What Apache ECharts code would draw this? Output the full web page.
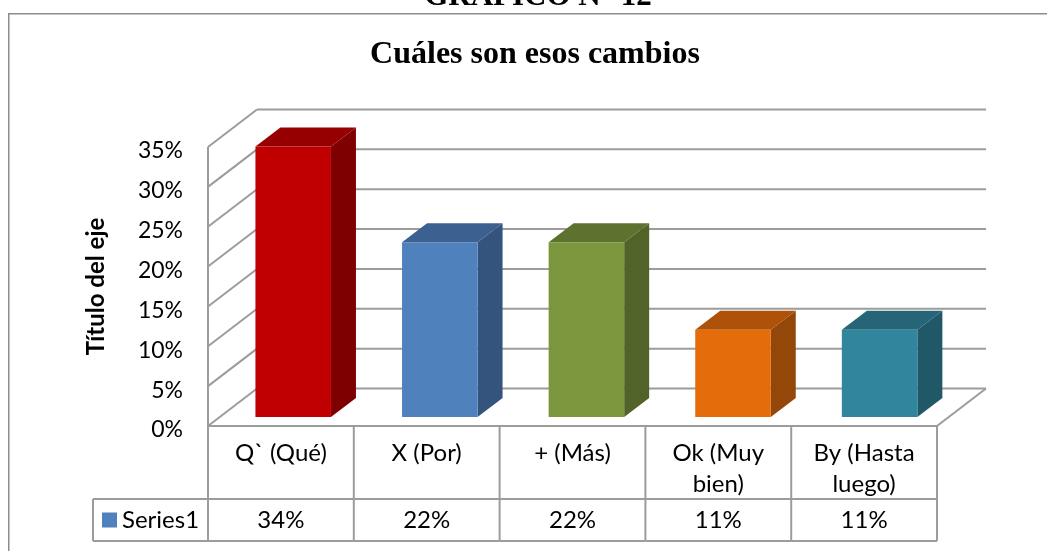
<!DOCTYPE html>
<html>
<head>
<meta charset="utf-8">
<style>html,body{margin:0;padding:0;background:#fff}#c{width:1047px;height:551px}</style>
<script src="https://cdn.jsdelivr.net/npm/echarts@6/dist/echarts.min.js"></script>
</head>
<body>
<div id="c"></div>
<script>
const categories = ['Q` (Qué)', 'X (Por)', '+ (Más)', 'Ok (Muy\nbien)', 'By (Hasta\nluego)'];
const values = [34, 22, 22, 11, 11];
const yTicks = [0, 5, 10, 15, 20, 25, 30, 35];
const seriesName = 'Series1';
const faceColors = ['#c00000', '#4f81bd', '#7c963e', '#e46c0a', '#31859c'];
const topColors = ['#960000', '#3c6190', '#5d722f', '#ad5208', '#256577'];
const sideColors = ['#7f0000', '#34547d', '#516329', '#934708', '#205868'];

const GRID = '#9c9c9c';
const BACK_DX = 49, BACK_DY = -37.5;
const LINE = {stroke: GRID, lineWidth: 2, fill: null};
const seg = (x1, y1, x2, y2) => ({type: 'line', shape: {x1, y1, x2, y2}, style: LINE});

const chart = echarts.init(document.getElementById('c'), null, {renderer: 'canvas'});
chart.setOption({
  animation: false,
  backgroundColor: '#fff',
  title: [
    {text: 'GRÁFICO N° 12', left: 533, top: -24, textAlign: 'center',
     textStyle: {fontFamily: 'Liberation Serif', fontWeight: 'bold', fontSize: 31, color: '#000'}},
    {text: 'Cuáles son esos cambios', left: 530, top: 34, textAlign: 'center',
     textStyle: {fontFamily: 'Liberation Serif', fontWeight: 'bold', fontSize: 32, color: '#000'}}
  ],
  graphic: [{type: 'rect', left: 8, top: 13, shape: {width: 1100, height: 600},
    style: {fill: '#fff', stroke: '#8c8c8c', lineWidth: 1.5}, z: -10}],
  legend: {
    data: [seriesName], left: 97, top: 503, icon: 'rect', itemWidth: 15, itemHeight: 15, itemGap: 6,
    textStyle: {fontFamily: 'Lato', fontSize: 24, color: '#000'}
  },
  grid: {left: 208, right: 110, top: 147, bottom: 125},
  xAxis: {
    type: 'category', data: categories,
    axisLine: {show: false}, axisTick: {show: false}, splitLine: {show: false},
    axisLabel: {interval: 0, margin: 12, lineHeight: 31, fontFamily: 'Lato', fontSize: 24, color: '#000'}
  },
  yAxis: {
    type: 'value', min: 0, max: 35, interval: 5,
    name: 'Título del eje', nameLocation: 'middle', nameGap: 100,
    nameTextStyle: {fontFamily: 'Lato', fontWeight: 'bold', fontSize: 24, color: '#000'},
    axisLine: {show: false}, axisTick: {show: false}, splitLine: {show: false},
    axisLabel: {margin: 25, formatter: '{value}%', fontFamily: 'Lato', fontSize: 23, color: '#000',
                verticalAlign: 'top', lineHeight: 8}
  },
  series: [
    {
      type: 'custom', silent: true, clip: false, z: 1, coordinateSystem: 'cartesian2d',
      data: yTicks.map(v => [0, v]),
      renderItem(params, api) {
        const p = api.coord([0, api.value(1)]);
        const w = api.size([1, 0])[0];
        const x0 = p[0] - w / 2, x1 = x0 + w * categories.length, y = p[1];
        const kids = [
          seg(x0, y, x0 + BACK_DX, y + BACK_DY),
          seg(x0 + BACK_DX, y + BACK_DY, x1 + BACK_DX, y + BACK_DY)
        ];
        if (api.value(1) === 0) {
          kids.push(seg(x1, y, x1 + BACK_DX, y + BACK_DY));
          kids.push(seg(x0, y, x1, y));
          const top = api.coord([0, yTicks[yTicks.length - 1]])[1];
          kids.push(seg(x0, y, x0, top));
        }
        return {type: 'group', children: kids};
      }
    },
    {
      type: 'custom', silent: true, clip: false, z: 1, coordinateSystem: 'cartesian2d',
      data: categories.map((c, i) => [i, values[i]]),
      renderItem(params, api) {
        const i = api.value(0);
        const p = api.coord([i, 0]);
        const w = api.size([1, 0])[0];
        const left = p[0] - w / 2, right = p[0] + w / 2, y = p[1];
        const mid = y + 73, bot = y + 115;
        const kids = [seg(right, y, right, bot), seg(left, mid, right, mid), seg(left, bot, right, bot),
          {type: 'text', x: p[0], y: (mid + bot) / 2,
           style: {text: api.value(1) + '%', fontFamily: 'Lato', fontSize: 24, fill: '#000',
                   align: 'center', verticalAlign: 'middle'}}];
        if (i === 0) {
          const tableLeft = left - 115;
          kids.push(seg(left, y, left, bot), seg(tableLeft, mid, left, mid),
                    seg(tableLeft, bot, left, bot), seg(tableLeft, mid, tableLeft, bot));
        }
        return {type: 'group', children: kids};
      }
    },
    {
      name: seriesName, type: 'custom', clip: false, z: 3, coordinateSystem: 'cartesian2d',
      itemStyle: {color: '#4f81bd'},
      data: categories.map((c, i) => [i, values[i]]),
      encode: {x: 0, y: 1},
      renderItem(params, api) {
        const i = api.value(0), v = api.value(1);
        const base = api.coord([i, 0]), topP = api.coord([i, v]);
        const w = api.size([1, 0])[0] * 0.518;
        const fx = base[0] + 12.3 + i * 0.8, lift = -9, ddx = 25, ddy = -19;
        const l = fx - w / 2, r = fx + w / 2, b = base[1] + lift, t = topP[1] + lift + 0.5;
        const poly = (points, fill) => ({type: 'polygon', shape: {points}, style: {fill}});
        return {type: 'group', children: [
          poly([[r, t], [r + ddx, t + ddy], [r + ddx, b + ddy], [r, b]], sideColors[i]),
          poly([[l, t], [l + ddx, t + ddy], [r + ddx, t + ddy], [r, t]], topColors[i]),
          poly([[l, t], [r, t], [r, b], [l, b]], faceColors[i])
        ]};
      }
    }
  ]
});
</script>
</body>
</html>
